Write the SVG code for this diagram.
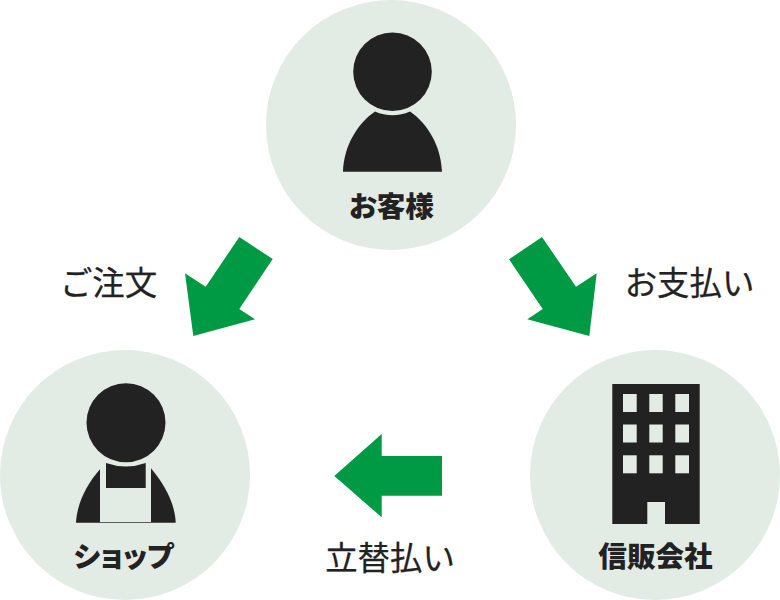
<svg xmlns="http://www.w3.org/2000/svg" width="780" height="600" viewBox="0 0 780 600">
<style>
.bg{fill:#e3ebe5}
.ic{fill:#222}
.ar{fill:#009944}
.win{fill:#e3ebe5}
text{font-family:"Noto Sans CJK JP","Noto Sans",sans-serif;fill:#222;text-anchor:middle}
.nl{font-size:28.600px;font-weight:900;font-feature-settings:"palt"}
.el{font-size:32.400px;font-weight:400;stroke:#222;stroke-width:0.250}
</style>
<rect width="780" height="600" fill="#fff"/>
<g id="node-customer">
<circle class="bg" cx="391" cy="125" r="125"/>
<circle class="ic" cx="392.500" cy="71.700" r="39.300"/>
<path class="ic" d="M343 171.700C344 146 357 124 375 111.500Q392.500 119 410 111.500C428 124 441 146 442 171.700Z"/>
<text class="nl" x="391.500" y="217">お客様</text>
</g>
<g id="node-shop">
<circle class="bg" cx="125" cy="475" r="125"/>
<circle class="ic" cx="126" cy="422.700" r="39.500"/>
<path class="ic" d="M106 463Q126 470 145.700 463V488H106Z"/>
<path class="ic" d="M76 522.700C77 503 87 484 100 469.300V522.700Z"/>
<path class="ic" d="M151 468.300C164 484 175 503 175.700 522.700H151Z"/>
<rect class="ic" x="100" y="522" width="51" height="0.700"/>
<text class="nl" x="123.500" y="567">ショップ</text>
</g>
<g id="node-trust">
<circle class="bg" cx="655" cy="475" r="125"/>
<path class="ic" fill-rule="evenodd" d="M612.300 384H699.700V524H665V502H647.300V524H612.300Z"/>
<g class="win">
<rect x="623" y="394" width="13.700" height="18"/><rect x="649.300" y="394" width="13.400" height="18"/><rect x="675.300" y="394" width="13.700" height="18"/>
<rect x="623" y="424.500" width="13.700" height="18"/><rect x="649.300" y="424.500" width="13.400" height="18"/><rect x="675.300" y="424.500" width="13.700" height="18"/>
<rect x="623" y="455.300" width="13.700" height="18"/><rect x="649.300" y="455.300" width="13.400" height="18"/><rect x="675.300" y="455.300" width="13.700" height="18"/>
</g>
<text class="nl" x="655.500" y="567">信販会社</text>
</g>
<g id="connectors">
<polygon class="ar" points="239.300,237 272.700,259 239.300,309 255,319.300 193.300,336 185,273.300 205.700,286.700"/>
<polygon class="ar" points="542,237 509,259.300 542.700,309 527.300,319.300 589.300,336 596.700,273.300 576,286.700"/>
<polygon class="ar" points="334.300,476 381.700,434 381.700,456 442,456 442,495.700 381.700,495.700 381.700,517.300"/>
</g>
<g id="labels">
<text class="el" x="108.500" y="295">ご注文</text>
<text class="el" x="689.500" y="295">お支払い</text>
<text class="el" x="390" y="570">立替払い</text>
</g>
</svg>
